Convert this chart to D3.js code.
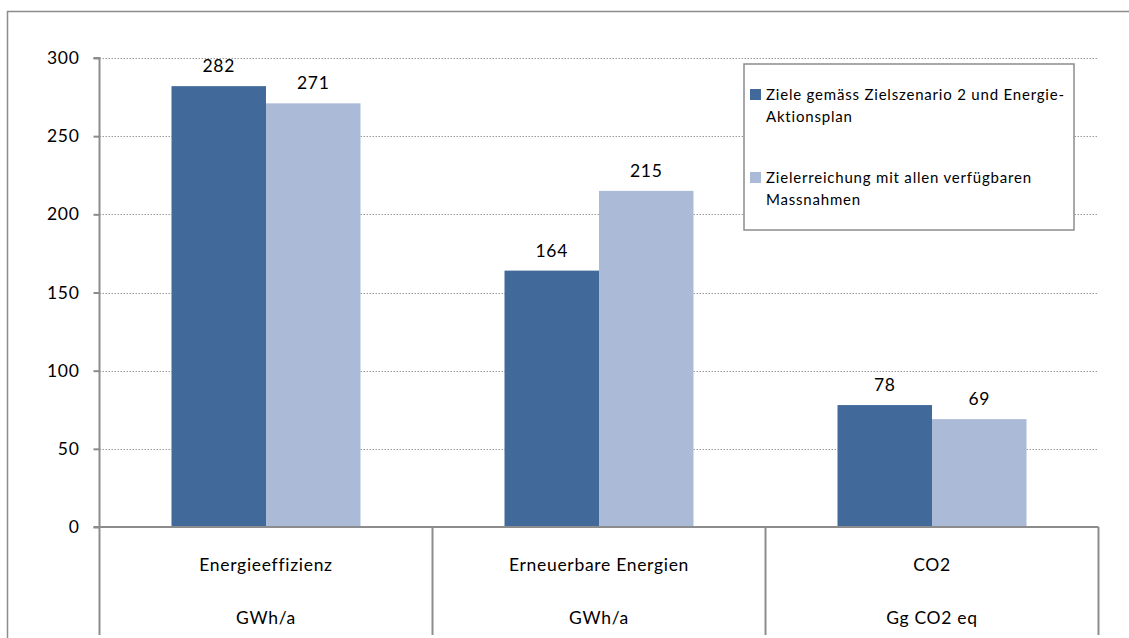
<!DOCTYPE html>
<html>
<head>
<meta charset="utf-8">
<script src="https://cdn.jsdelivr.net/npm/d3@7"></script>
<style>
  html, body { margin: 0; padding: 0; background: #fff; }
  svg { display: block; }
  text { font-family: Lato, "Open Sans", sans-serif; fill: #000; }
</style>
</head>
<body>
<svg id="chart" width="1129" height="638"></svg>
<script>
const categories = ["Energieeffizienz", "Erneuerbare Energien", "CO2"];
const units = ["GWh/a", "GWh/a", "Gg CO2 eq"];
const seriesNames = [
  ["Ziele gemäss Zielszenario 2 und Energie-", "Aktionsplan"],
  ["Zielerreichung mit allen verfügbaren", "Massnahmen"]
];
const seriesA = [282, 164, 78];
const seriesB = [271, 215, 69];
const yTicks = [0, 50, 100, 150, 200, 250, 300];

(function () {
const colors = ["#416A9B", "#AABAD7"];
const FS = 17.5, LS = 0.7;
const svg = d3.select("#chart");

// outer border
svg.append("rect").attr("x", 7.5).attr("y", 11.5).attr("width", 1140).attr("height", 700)
  .attr("fill", "none").attr("stroke", "#8c8c8c").attr("stroke-width", 1.5);

const pl = 99.5, pr = 1098.5, pt = 58, pb = 527;
const y = d3.scaleLinear().domain([0, 300]).range([pb, pt]);
const x = d3.scaleBand().domain(categories).range([pl, pr]).padding(0);
const xs = d3.scaleBand().domain([0, 1]).range([0, x.bandwidth()]).paddingInner(0).paddingOuter(0.762);

// gridlines
svg.append("g").selectAll("line").data(yTicks.filter(t => t > 0)).join("line")
  .attr("x1", pl).attr("x2", pr)
  .attr("y1", d => Math.round(y(d)) + 0.5).attr("y2", d => Math.round(y(d)) + 0.5)
  .attr("stroke", "#9a9a9a").attr("stroke-width", 1).attr("stroke-dasharray", "1.5,1.5");

// bars
const data = categories.map((c, i) => ({ c, vals: [seriesA[i], seriesB[i]] }));
const g = svg.append("g");
data.forEach(d => {
  d.vals.forEach((v, j) => {
    const bx = x(d.c) + xs(j);
    g.append("rect")
      .attr("x", bx).attr("y", y(v))
      .attr("width", xs.bandwidth()).attr("height", y(0) - y(v))
      .attr("fill", colors[j]);
    g.append("text")
      .attr("x", bx + xs.bandwidth() / 2).attr("y", y(v) - 14)
      .attr("text-anchor", "middle").attr("font-size", FS).attr("letter-spacing", LS)
      .text(v);
  });
});

// y axis
const yAxis = d3.axisLeft(y).tickValues(yTicks).tickSize(6).tickPadding(14);
const ya = svg.append("g").attr("transform", `translate(${pl},0)`).call(yAxis);
ya.select(".domain").attr("stroke", "#8c8c8c").attr("stroke-width", 2).attr("d", `M-6,${pt}H0V${pb}`);
ya.selectAll(".tick line").attr("stroke", "#8c8c8c").attr("stroke-width", 2);
ya.selectAll(".tick text").attr("font-size", FS).attr("letter-spacing", LS)
  .attr("font-family", "Lato, sans-serif").attr("fill", "#000");

// bottom axis baseline
svg.append("line").attr("x1", pl - 6).attr("x2", pr).attr("y1", pb).attr("y2", pb)
  .attr("stroke", "#8c8c8c").attr("stroke-width", 2);
// category separators
const seps = [pl, ...categories.map(c => x(c) + x.bandwidth())];
svg.append("g").selectAll("line").data(seps).join("line")
  .attr("x1", d => d).attr("x2", d => d).attr("y1", pb).attr("y2", 635)
  .attr("stroke", "#8c8c8c").attr("stroke-width", 2);

// category labels
svg.append("g").selectAll("text").data(categories).join("text")
  .attr("x", d => x(d) + x.bandwidth() / 2).attr("y", 571)
  .attr("text-anchor", "middle").attr("font-size", FS).attr("letter-spacing", LS).text(d => d);
svg.append("g").selectAll("text").data(units).join("text")
  .attr("x", (d, i) => x(categories[i]) + x.bandwidth() / 2).attr("y", 624)
  .attr("text-anchor", "middle").attr("font-size", FS).attr("letter-spacing", LS).text(d => d);

// legend
const lg = svg.append("g");
lg.append("rect").attr("x", 744).attr("y", 64).attr("width", 330).attr("height", 166)
  .attr("fill", "#fff").attr("stroke", "#8c8c8c").attr("stroke-width", 1.5);
const itemY = [89, 172];
seriesNames.forEach((lines, i) => {
  lg.append("rect").attr("x", 750).attr("y", itemY[i]).attr("width", 11).attr("height", 11).attr("fill", colors[i]);
  lines.forEach((t, k) => {
    lg.append("text").attr("x", 766).attr("y", itemY[i] + 11 + k * 21.5)
      .attr("font-size", 15).attr("letter-spacing", 0.8).text(t);
  });
});
})();
</script>
</body>
</html>
